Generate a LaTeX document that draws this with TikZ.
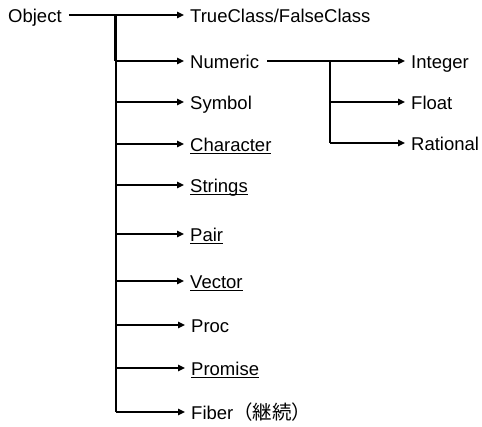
\documentclass[tikz,border=0pt]{standalone}
\usepackage{fontspec}
\setmainfont{Liberation Sans}
\newfontfamily\cjk{Noto Sans CJK JP}
\usetikzlibrary{arrows.meta}
\newsavebox\ulbox
\newcommand\uln[1]{\sbox\ulbox{#1}\rlap{\rule[-3.2pt]{\wd\ulbox}{1.1pt}}\usebox\ulbox}
\tikzset{
  lbl/.style={anchor=west, inner xsep=0pt, inner ysep=0pt, text height=14pt, text depth=0pt,
     font=\fontsize{18.5}{20}\selectfont},
  arr/.style={line width=1.5pt, -{Triangle[length=7pt,width=6.5pt]}, shorten >=6pt},
  trunkline/.style={line width=2pt},
  subline/.style={line width=1.4pt}
}
\begin{document}
\begin{tikzpicture}[x=1pt,y=-1pt]
\useasboundingbox (0,0) rectangle (482,426);
% nodes
\node[lbl] (obj) at (8,15) {Object};
\node[lbl] (tc)  at (190,15) {TrueClass/FalseClass};
\node[lbl] (num) at (190,61) {Numeric};
\node[lbl] (sym) at (190,102) {Symbol};
\node[lbl] (chr) at (190,144) {\uln{Character}};
\node[lbl] (str) at (190,185) {\uln{Strings}};
\node[lbl] (pair) at (190,234) {\uln{Pair}};
\node[lbl] (vec) at (190,281) {\uln{Vector}};
\node[lbl] (proc) at (191,325) {Proc};
\node[lbl] (prom) at (191,368) {\uln{Promise}};
\node[lbl] (fib) at (191,412) {Fiber{\cjk\fontsize{19.5}{22}\selectfont （継続）}};
\node[lbl] (int) at (411,61) {Integer};
\node[lbl] (flt) at (411,102) {Float};
\node[lbl] (rat) at (411,143) {Rational};
% trunk coordinates
\coordinate (trunk) at (116,15);
\coordinate (trunkend) at (116,412);
\coordinate (ntrunk) at (330,61);
\coordinate (ntrunkend) at (330,143);
% main arrows
\draw[arr, shorten <=7pt] (obj.east) -- (tc.west);
\draw[trunkline] (trunk) -- (trunkend);
\draw[line width=2pt] ([xshift=-1.5pt]trunk) -- ([xshift=-1.5pt]trunk |- num.west);
\foreach \n in {num,sym,chr,str,pair,vec,proc,prom,fib}
  \draw[arr] (trunk |- \n.west) -- (\n.west);
% numeric subtree
\draw[arr, shorten <=8pt] (num.east) -- (int.west);
\draw[subline] (ntrunk) -- (ntrunkend);
\foreach \n in {flt,rat}
  \draw[arr] (ntrunk |- \n.west) -- (\n.west);
\end{tikzpicture}
\end{document}
